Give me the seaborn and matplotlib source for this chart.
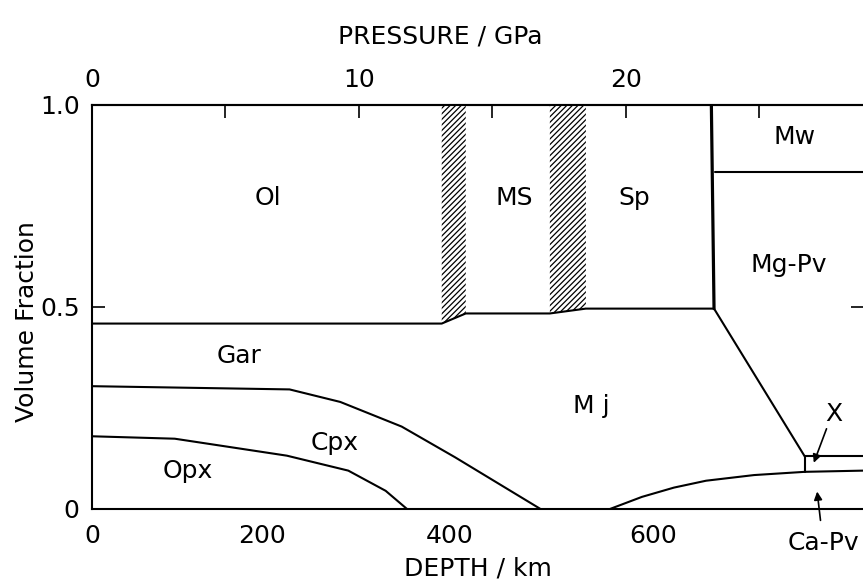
import matplotlib
matplotlib.use("Agg")
import matplotlib.pyplot as plt
import seaborn as sns
import pandas as pd

# ---------------- data (x in GPa, y = volume fraction) ----------------
# upper boundary of Gar / Mj field (lower boundary of Ol, MS, Sp, then Mg-Pv diagonal)
gar_top_p = [0.0, 13.1, 14.0, 17.15, 18.5, 23.3, 26.7]
gar_top_v = [0.459, 0.459, 0.484, 0.484, 0.496, 0.496, 0.13]
# Gar / Cpx boundary
cpx_top_p = [0.0, 7.4, 9.3, 11.6, 13.6, 16.8]
cpx_top_v = [0.304, 0.296, 0.265, 0.204, 0.128, 0.0]
# Cpx / Opx boundary
opx_top_p = [0.0, 3.1, 5.0, 7.3, 9.6, 11.0, 11.8]
opx_top_v = [0.18, 0.174, 0.155, 0.132, 0.095, 0.045, 0.0]
# Ca-Pv upper boundary
capv_p = [19.4, 20.6, 21.8, 23.0, 24.8, 26.7, 28.9]
capv_v = [0.0, 0.03, 0.053, 0.07, 0.084, 0.092, 0.095]
# X phase top and left edge
x_top_p = [26.7, 28.9]
x_top_v = [0.13, 0.13]
x_left_p = [26.7, 26.7]
x_left_v = [0.13, 0.092]
# 660 km discontinuity (Sp -> Mg-Pv + Mw)
d660_p = [23.2, 23.3]
d660_v = [1.0, 0.496]
# Mw / Mg-Pv boundary
mw_p = [23.35, 28.9]
mw_v = [0.835, 0.835]
# two-phase (hatched) loops
hatch1_p = [13.1, 14.0]
hatch1_lo = [0.459, 0.484]
hatch2_p = [17.15, 18.5]
hatch2_lo = [0.484, 0.496]

# axes ticks
pressure_ticks = [0, 5, 10, 15, 20, 25]
pressure_labels = ["0", "", "10", "", "20", ""]
depth_tick_pos = [0.0, 3.0, 6.37, 9.66, 13.4, 17.2, 21.0, 24.9]   # GPa of 0,100,...,700 km
depth_labels = ["0", "", "200", "", "400", "", "600", ""]
frac_ticks = [0.0, 0.5, 1.0]
frac_labels = ["0", "0.5", "1.0"]

# phase labels
phase_names = ["Ol", "MS", "Sp", "Mw", "Mg-Pv", "Gar", "M j", "Cpx", "Opx"]
phase_p = [6.6, 15.8, 20.3, 26.3, 26.1, 5.5, 18.7, 9.1, 3.6]
phase_v = [0.77, 0.77, 0.77, 0.92, 0.605, 0.378, 0.256, 0.163, 0.093]

# ---------------- figure ----------------
FS = 18
sns.set_theme(style="white", rc={"text.color": "black", "axes.labelcolor": "black",
                                 "xtick.color": "black", "ytick.color": "black"})
plt.rcParams["font.family"] = ["DejaVu Sans"]
plt.rcParams["hatch.linewidth"] = 0.9
plt.rcParams["hatch.color"] = "black"

W, H = 863, 583
L, R, B, T = 92, 863, 509, 105
fig = plt.figure(figsize=(W / 100, H / 100), dpi=100)
ax = fig.add_axes([L / W, 1 - B / H, (R - L) / W, (B - T) / H])

lw = 1.5
for px, vy, w in [
    (gar_top_p, gar_top_v, lw),
    (cpx_top_p, cpx_top_v, lw),
    (opx_top_p, opx_top_v, lw),
    (capv_p, capv_v, lw),
    (x_top_p, x_top_v, lw),
    (x_left_p, x_left_v, lw),
    (d660_p, d660_v, 2.3),
    (mw_p, mw_v, lw),
]:
    df = pd.DataFrame({"P": px, "V": vy})
    sns.lineplot(data=df, x="P", y="V", sort=False, estimator=None,
                 color="black", linewidth=w, ax=ax)

for bp, blo in [(hatch1_p, hatch1_lo), (hatch2_p, hatch2_lo)]:
    ax.fill_between(bp, blo, [1.0, 1.0], facecolor="white", edgecolor="black",
                    hatch="//////", linewidth=0)

ax.set_xlim(0, 28.88)
ax.set_ylim(0, 1)

ax.set_xticks(depth_tick_pos)
ax.set_xticklabels(depth_labels)
ax.set_yticks(frac_ticks)
ax.set_yticklabels(frac_labels)
ax.tick_params(axis="x", direction="in", length=9, width=1.2, labelsize=FS, pad=11)
ax.tick_params(axis="y", direction="in", length=9, width=1.2, labelsize=FS,
               pad=9, right=True, left=True)
ax.set_xlabel("")
ax.set_ylabel("")

for s in ["left", "bottom", "top"]:
    ax.spines[s].set_color("black")
    ax.spines[s].set_linewidth(1.5)
ax.spines["right"].set_visible(False)

top = ax.secondary_xaxis("top")
top.set_xticks(pressure_ticks)
top.set_xticklabels(pressure_labels)
top.tick_params(direction="in", length=9, width=1.2, labelsize=FS, pad=9)
top.spines["top"].set_linewidth(1.5)

fig.text(440 / W, 1 - 36 / H, "PRESSURE / GPa", fontsize=FS, ha="center", va="center")
fig.text(478 / W, 1 - 568 / H, "DEPTH / km", fontsize=FS, ha="center", va="center")
fig.text(27 / W, 1 - 322 / H, "Volume Fraction", fontsize=FS, ha="center",
         va="center", rotation=90)

for name, px, vy in zip(phase_names, phase_p, phase_v):
    ax.text(px, vy, name, fontsize=FS, ha="center", va="center")

ax.text(27.8, 0.235, "X", fontsize=FS, ha="center", va="center")
ax.annotate("", xy=(27.0, 0.108), xytext=(27.55, 0.205),
            arrowprops=dict(arrowstyle="-|>", color="black", lw=1.2,
                            mutation_scale=12))
ax.text(27.4, -0.085, "Ca-Pv", fontsize=FS, ha="center", va="center",
        clip_on=False)
ax.annotate("", xy=(27.15, 0.05), xytext=(27.3, -0.035),
            arrowprops=dict(arrowstyle="-|>", color="black", lw=1.2,
                            mutation_scale=12), annotation_clip=False)

fig.savefig("out.png", dpi=100)
